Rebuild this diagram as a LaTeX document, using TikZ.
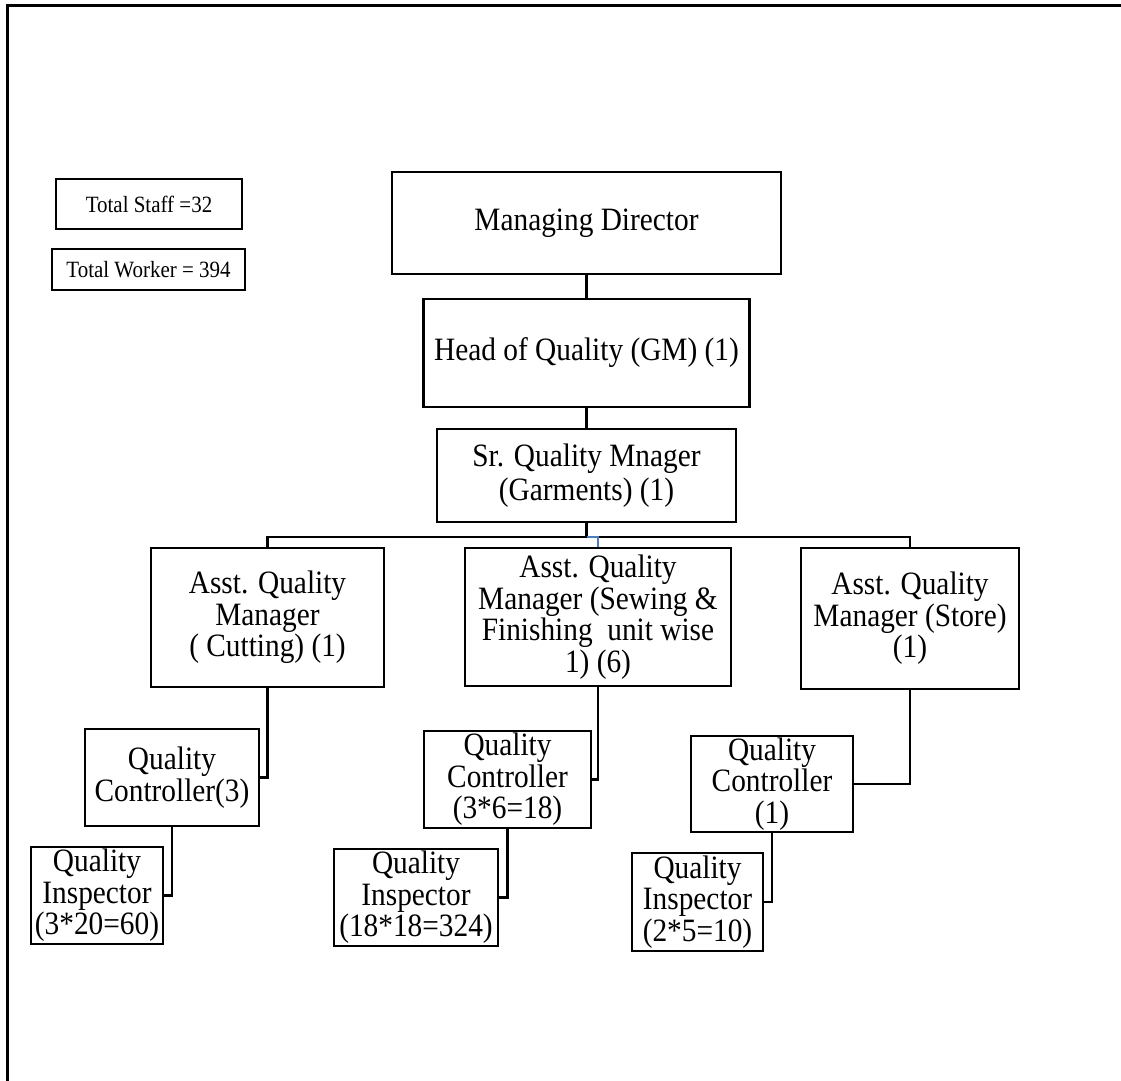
\documentclass[tikz,border=0pt]{standalone}
\usepackage{fontspec}
\setmainfont[FakeStretch=0.9]{Liberation Serif}
\begin{document}
\begin{tikzpicture}[x=1pt,y=-1pt,
  box/.style={draw, line width=2.4pt, rectangle, inner sep=0pt, align=center,
    font=\fontsize{32.6}{31.5}\selectfont},
  smallbox/.style={box, font=\fontsize{23.3}{25}\selectfont},
  link/.style={line width=2.4pt},
  bluelink/.style={line width=2pt, draw={rgb,255:red,74;green,126;blue,187}}]
\useasboundingbox (0,0) rectangle (1121,1080);
% page frame
\draw[line width=3pt] (7,1085) -- (7,5) -- (1125,5);

% totals
\node[smallbox, minimum width=186, minimum height=50] (staff) at (149,204) {Total Staff =32};
\node[smallbox, minimum width=193, minimum height=41] (worker) at (148.5,269.5) {Total Worker = 394};

% top of the chain
\node[box, minimum width=389, minimum height=102] (md) at (586.5,223) {Managing Director};
\node[box, minimum width=326, minimum height=108] (hoq) at (586.5,353) {Head of Quality (GM) (1)};
\node[box, minimum width=299, minimum height=93] (sqm) at (586.5,475.5) {Sr. Quality Mnager\\[3pt](Garments) (1)};

% assistant managers
\node[box, minimum width=233, minimum height=139] (aqm1) at (267.5,617.5) {Asst. Quality\\Manager\\( Cutting) (1)};
\node[box, minimum width=266, minimum height=138] (aqm2) at (598,617) {Asst. Quality\\Manager (Sewing \&\\Finishing\ \ unit wise\\1) (6)};
\node[box, minimum width=218, minimum height=141] (aqm3) at (910,618.5) {Asst. Quality\\Manager (Store)\\(1)};

% quality controllers
\node[box, minimum width=174, minimum height=97] (qc1) at (172,777.5) {Quality\\Controller(3)};
\node[box, minimum width=167, minimum height=97] (qc2) at (507.5,779.5) {Quality\\Controller\\(3*6=18)};
\node[box, minimum width=162, minimum height=96] (qc3) at (772,784) {Quality\\Controller\\(1)};

% quality inspectors
\node[box, minimum width=132, minimum height=97] (qi1) at (97,895.5) {Quality\\Inspector\\(3*20=60)};
\node[box, minimum width=164, minimum height=97] (qi2) at (416,897.5) {Quality\\Inspector\\(18*18=324)};
\node[box, minimum width=131, minimum height=98] (qi3) at (697.5,902) {Quality\\Inspector\\(2*5=10)};

% connectors
\coordinate (bus) at (586.5,537);
\draw[link] (md.south) -- (hoq.north);
\draw[link] (hoq.south) -- (sqm.north);
\draw[link] (sqm.south) -- (bus);
\draw[link] (aqm1.north) |- (bus) -| (aqm3.north);
\draw[bluelink] (bus) -| (aqm2.north);
\draw[link] (aqm1.south) |- (qc1.east);
\draw[link] (aqm2.south) |- (qc2.east);
\draw[link] (aqm3.south) |- (qc3.east);
\draw[link] (qc1.south) |- (qi1.east);
\draw[link] (qc2.south) |- (qi2.east);
\draw[link] (qc3.south) |- (qi3.east);
\end{tikzpicture}
\end{document}
